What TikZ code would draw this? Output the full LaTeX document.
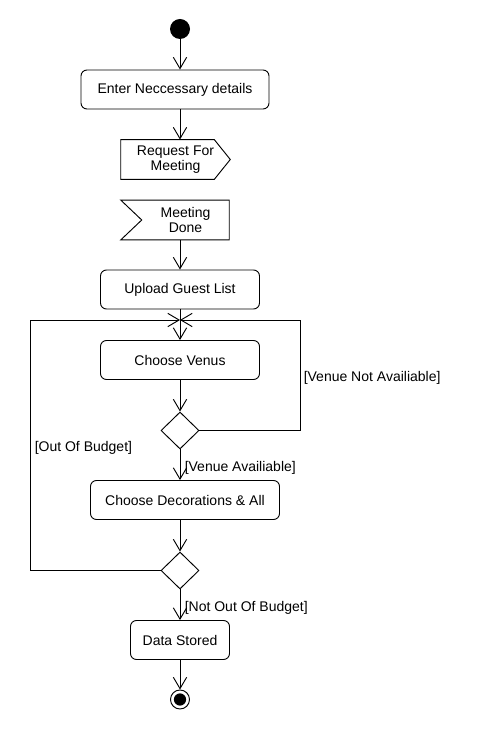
\documentclass[tikz,border=0pt]{standalone}
\usepackage{fontspec}
\setmainfont{Liberation Sans}
\usetikzlibrary{arrows.meta,shapes.geometric}
\begin{document}
\begin{tikzpicture}[x=0.75pt,y=-0.75pt,
  every node/.style={font=\fontsize{10.5}{11.5}\selectfont},
  base/.style={line width=0.7pt},
  act/.style={base,draw,rounded corners=4.5pt,minimum height=29.25pt,inner sep=0pt,align=center},
  sigbox/.style={inner sep=0pt,align=center,minimum height=29.5pt},
  dec/.style={base,draw,diamond,minimum width=28.5pt,minimum height=27.75pt,inner sep=0pt},
  arr/.style={base,-{Straight Barb[length=8.5pt,width=10pt]}},
  lbl/.style={anchor=west,inner sep=0pt}]
\useasboundingbox (0,0) rectangle (480,730);
\node[circle,fill=black,minimum size=15pt,inner sep=0pt] (start) at (180,29) {};
\node[act,minimum width=141pt] (enter) at (175,89.5) {Enter Neccessary details};
\node[sigbox,minimum width=81.75pt] (req) at (175.5,159.5) {Request For\\Meeting};
\draw[base] (req.north west) -- ([xshift=-12pt]req.north east) -- (req.east)
  -- ([xshift=-12pt]req.south east) -- (req.south west) -- cycle;
\node[sigbox,minimum width=65.25pt] (done) at (185.5,220) {Meeting\\Done};
\draw[base] (done.north east) -- (done.south east) -- ([xshift=-15.75pt]done.south west)
  -- (done.west) -- ([xshift=-15.75pt]done.north west) -- cycle;
\node[act,minimum width=119.25pt] (upload) at (180,289.5) {Upload Guest List};
\node[act,minimum width=119.25pt] (venus) at (180,360) {Choose Venus};
\node[dec] (d1) at (180,430.5) {};
\node[act,minimum width=141.75pt] (deco) at (185,500) {Choose Decorations \& All};
\node[dec] (d2) at (180,570.5) {};
\node[act,minimum width=74.25pt] (data) at (180,640) {Data Stored};
\node[base,circle,draw,minimum size=14.25pt,inner sep=0pt] (end) at (180,699.5) {};
\fill (end.center) circle (4.6pt);
\coordinate (merge) at (180,320);
\coordinate (rc) at (300.5,320);
\coordinate (lc) at (30.5,320);
\draw[arr] (start) -- (start |- enter.north);
\draw[arr] (enter.south -| start) -- (req.north -| start);
\draw[arr] (done.south -| start) -- (upload.north);
\draw[arr] (upload) -- (venus);
\draw[arr] (venus) -- (d1);
\draw[arr] (d1) -- (d1 |- deco.north);
\draw[arr] (d2 |- deco.south) -- (d2);
\draw[arr] (d2) -- (data);
\draw[arr] (data) -- (end);
\draw[arr] (d1.east) -| (rc) -- (merge);
\draw[arr] (d2.west) -| (lc) -- (merge);
\node[lbl] (l1) at (303.5,378) {[Venue Not Availiable]};
\node[lbl] (l2) at (34.5,448) {[Out Of Budget]};
\node[lbl] (l3) at (184.5,468) {[Venue Availiable]};
\node[lbl] (l4) at (184.5,608) {[Not Out Of Budget]};
\end{tikzpicture}
\end{document}
